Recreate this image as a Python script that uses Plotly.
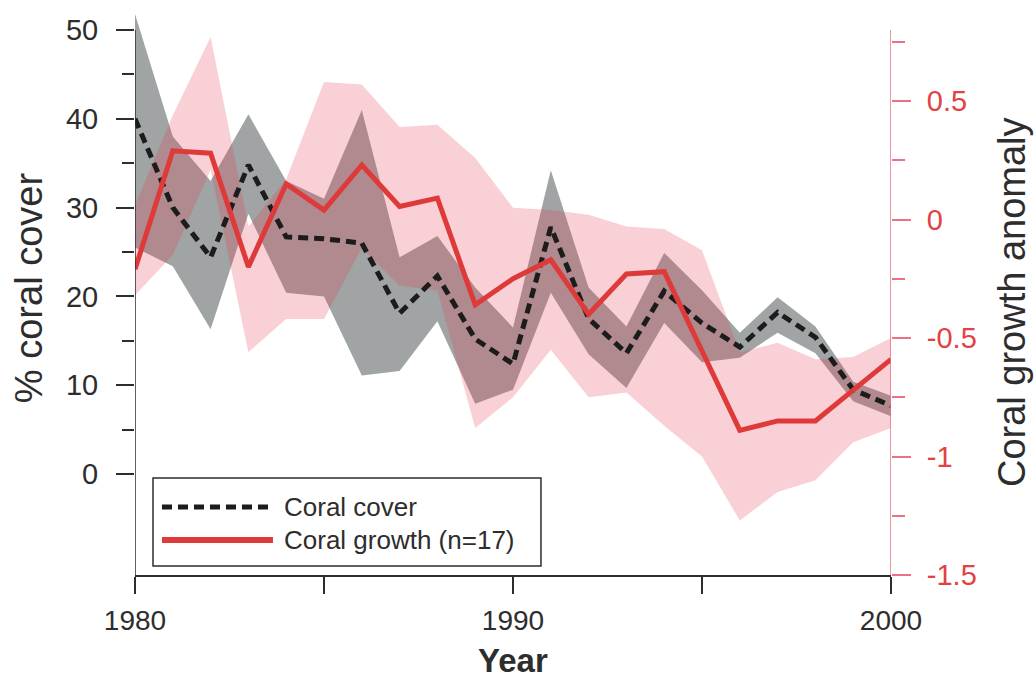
import plotly.graph_objects as go

# ---- data -------------------------------------------------------------
years = list(range(1980, 2001))

# % coral cover (mean) with its uncertainty envelope
cover = [40.0, 30.0, 24.4, 34.8, 26.7, 26.5, 26.0, 18.1, 22.3, 15.2, 12.4,
         27.8, 17.5, 13.6, 20.6, 17.0, 14.3, 18.2, 15.4, 9.5, 7.7]
cover_hi = [51.8, 38.0, 33.0, 40.5, 33.0, 31.0, 41.0, 24.4, 26.8, 21.0, 16.5,
            34.2, 21.0, 16.6, 24.9, 20.7, 15.9, 19.9, 16.6, 10.4, 8.8]
cover_lo = [25.5, 23.4, 16.3, 29.3, 20.4, 20.0, 11.1, 11.6, 17.2, 7.9, 9.5,
            20.4, 13.5, 9.7, 17.0, 12.6, 13.1, 15.9, 13.6, 8.2, 6.5]

# coral growth anomaly (n=17) with its uncertainty envelope
growth = [-0.21, 0.29, 0.28, -0.20, 0.15, 0.04, 0.23, 0.055, 0.09, -0.36, -0.25,
          -0.17, -0.40, -0.23, -0.22, -0.56, -0.89, -0.85, -0.85, -0.72, -0.59]
growth_hi = [0.06, 0.44, 0.77, -0.03, 0.17, 0.58, 0.57, 0.39, 0.40, 0.26, 0.05,
             0.04, 0.02, -0.03, -0.04, -0.13, -0.56, -0.52, -0.59, -0.58, -0.50]
growth_lo = [-0.32, -0.15, 0.21, -0.56, -0.42, -0.42, -0.12, -0.28, -0.30, -0.88, -0.75,
             -0.55, -0.75, -0.73, -0.87, -1.00, -1.27, -1.15, -1.10, -0.94, -0.88]

# ---- axes ---------------------------------------------------------------
year_ticks = [1980, 1990, 2000]
year_minor = [1985, 1995]
cover_ticks = [0, 10, 20, 30, 40, 50]
cover_minor = [5, 15, 25, 35, 45]
growth_ticks = [-1.5, -1, -0.5, 0, 0.5]
growth_labels = ["-1.5", "-1", "-0.5", "0", "0.5"]
growth_minor = [-1.25, -0.75, -0.25, 0.25, 0.75]

cover_range = [-11.37, 52.25]
growth_range = [-1.50, 0.884]

DARK = "rgb(45,45,45)"
AXIS_RED = "rgb(238,112,132)"
LABEL_RED = "rgb(226,66,66)"
LINE_RED = "rgb(222,58,58)"
GREY_FILL = "rgb(160,164,164)"
PINK_FILL = "rgba(232,60,80,0.24)"
FONT = "Liberation Sans, Arial, Helvetica, sans-serif"

fig = go.Figure()

# envelopes first, then the two series on top
fig.add_trace(go.Scatter(
    x=years + years[::-1], y=cover_hi + cover_lo[::-1],
    fill="toself", fillcolor=GREY_FILL, line=dict(width=0),
    mode="lines", hoverinfo="skip", showlegend=False, yaxis="y"))
fig.add_trace(go.Scatter(
    x=years + years[::-1], y=growth_hi + growth_lo[::-1],
    fill="toself", fillcolor=PINK_FILL, line=dict(width=0),
    mode="lines", hoverinfo="skip", showlegend=False, yaxis="y2"))
fig.add_trace(go.Scatter(
    x=years, y=cover, mode="lines", name="Coral cover",
    line=dict(color="rgb(28,28,28)", width=5, dash="10px,6px"),
    showlegend=False, yaxis="y3"))
fig.add_trace(go.Scatter(
    x=years, y=growth, mode="lines", name="Coral growth (n=17)",
    line=dict(color=LINE_RED, width=5),
    showlegend=False, yaxis="y4"))

tick_font = dict(family=FONT, size=29, color=DARK)

fig.update_layout(
    width=1036, height=681, autosize=False,
    margin=dict(l=135, r=145, t=10, b=106, pad=0),
    paper_bgcolor="white", plot_bgcolor="white",
    font=dict(family=FONT, color=DARK),
    showlegend=False,
    xaxis=dict(
        range=[1980, 2000], showgrid=False, zeroline=False, automargin=False,
        showline=True, linecolor=DARK, linewidth=1.5,
        tickmode="array", tickvals=year_ticks,
        ticks="outside", ticklen=17, tickwidth=1.5, tickcolor=DARK,
        minor=dict(tickmode="array", tickvals=year_minor, ticks="outside",
                   ticklen=17, tickwidth=1.5, tickcolor=DARK, showgrid=False),
        tickfont=dict(family=FONT, size=28, color=DARK), ticklabelstandoff=3,
    ),
    yaxis=dict(
        range=cover_range, showgrid=False, zeroline=False, showline=False,
        automargin=False,
        tickmode="array", tickvals=cover_ticks,
        ticks="outside", ticklen=18, tickwidth=1.5, tickcolor=DARK,
        minor=dict(tickmode="array", tickvals=cover_minor, ticks="outside",
                   ticklen=12, tickwidth=1.5, tickcolor=DARK, showgrid=False),
        tickfont=tick_font, ticklabelstandoff=12,
    ),
    yaxis2=dict(
        range=growth_range, overlaying="y", side="right", automargin=False,
        showgrid=False, zeroline=False, showline=False,
        tickmode="array", tickvals=growth_ticks, ticktext=growth_labels,
        ticks="outside", ticklen=19, tickwidth=1.5, tickcolor=AXIS_RED,
        minor=dict(tickmode="array", tickvals=growth_minor, ticks="outside",
                   ticklen=13, tickwidth=1.5, tickcolor=AXIS_RED, showgrid=False),
        tickfont=dict(family=FONT, size=29, color=LABEL_RED), ticklabelstandoff=10,
    ),
    yaxis3=dict(range=cover_range, overlaying="y", visible=False),
    yaxis4=dict(range=growth_range, overlaying="y", visible=False),
)

# axis spines (left stops at the 50 tick, right stops just above the top minor tick)
fig.add_shape(type="line", xref="x", yref="y", x0=1980, x1=1980,
              y0=cover_range[0], y1=50, line=dict(color=DARK, width=1.5))
fig.add_shape(type="line", xref="x", yref="y2", x0=2000, x1=2000,
              y0=growth_range[0], y1=0.80, line=dict(color=AXIS_RED, width=1.5))

# axis titles
fig.add_annotation(text="<b>Year</b>", xref="paper", yref="paper",
                   x=0.5, y=-0.152, xanchor="center", yanchor="middle",
                   borderpad=0, showarrow=False,
                   font=dict(family=FONT, size=33, color=DARK))
fig.add_annotation(text="% coral cover", xref="paper", yref="paper",
                   x=-0.140, y=0.508, xanchor="center", yanchor="middle",
                   textangle=-90, showarrow=False,
                   font=dict(family=FONT, size=38, color=DARK))
fig.add_annotation(text="Coral growth anomaly", xref="paper", yref="paper",
                   x=1.160, y=0.483, xanchor="center", yanchor="middle",
                   textangle=-90, showarrow=False,
                   font=dict(family=FONT, size=38, color=DARK))

# legend box
fig.add_shape(type="rect", xref="paper", yref="paper",
              x0=0.0238, x1=0.537, y0=0.0159, y1=0.1717,
              line=dict(color=DARK, width=1.5), fillcolor="white", layer="above")
fig.add_shape(type="line", xref="paper", yref="paper",
              x0=0.0357, x1=0.1825, y0=0.1204, y1=0.1204,
              line=dict(color="rgb(28,28,28)", width=5, dash="10px,6px"), layer="above")
fig.add_shape(type="line", xref="paper", yref="paper",
              x0=0.0357, x1=0.1825, y0=0.0619, y1=0.0619,
              line=dict(color=LINE_RED, width=6), layer="above")
fig.add_annotation(text="Coral cover", xref="paper", yref="paper",
                   x=0.1944, y=0.1204, xanchor="left", yanchor="middle",
                   showarrow=False, font=dict(family=FONT, size=26, color=DARK))
fig.add_annotation(text="Coral growth (n=17)", xref="paper", yref="paper",
                   x=0.1944, y=0.0619, xanchor="left", yanchor="middle",
                   showarrow=False, font=dict(family=FONT, size=26, color=DARK))

fig.write_html("out.html")
